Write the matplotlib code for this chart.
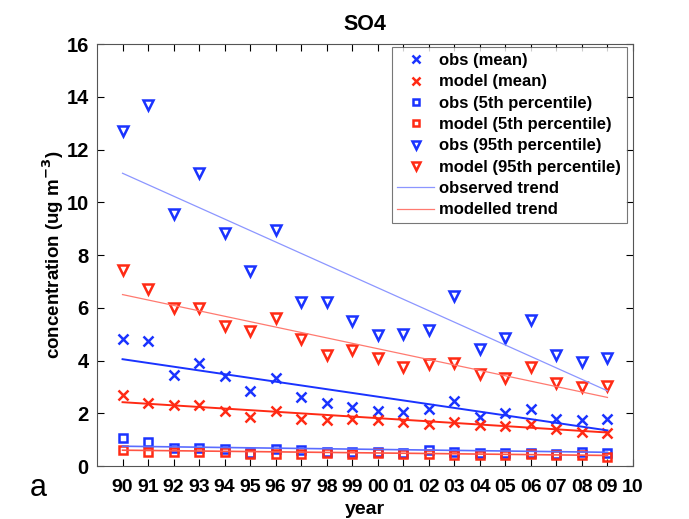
import matplotlib
matplotlib.use("Agg")
import matplotlib.pyplot as plt
import numpy as np

plt.rcParams['font.family'] = ['Liberation Sans', 'DejaVu Sans']

years = np.arange(1990, 2010)
tick_years = np.arange(1990, 2011)
tick_labels = ['%02d' % (y % 100) for y in tick_years]

obs_mean = [4.8, 4.75, 3.45, 3.9, 3.42, 2.85, 3.35, 2.6, 2.4, 2.25,
            2.1, 2.05, 2.15, 2.45, 1.85, 2.0, 2.15, 1.8, 1.75, 1.8]
mod_mean = [2.7, 2.4, 2.3, 2.3, 2.1, 1.85, 2.1, 1.8, 1.75, 1.8,
            1.75, 1.65, 1.6, 1.65, 1.55, 1.5, 1.6, 1.4, 1.3, 1.25]
obs_p5 = [1.05, 0.9, 0.7, 0.7, 0.65, 0.5, 0.65, 0.6, 0.55, 0.55,
          0.55, 0.5, 0.6, 0.55, 0.5, 0.5, 0.5, 0.45, 0.55, 0.5]
mod_p5 = [0.6, 0.55, 0.55, 0.55, 0.55, 0.45, 0.45, 0.45, 0.5, 0.45,
          0.5, 0.45, 0.45, 0.4, 0.4, 0.4, 0.45, 0.4, 0.4, 0.35]
obs_p95 = [12.7, 13.7, 9.55, 11.1, 8.85, 7.4, 8.95, 6.2, 6.2, 5.5,
           4.95, 5.0, 5.15, 6.45, 4.45, 4.85, 5.55, 4.2, 3.95, 4.1]
mod_p95 = [7.45, 6.7, 6.0, 6.0, 5.3, 5.1, 5.6, 4.8, 4.2, 4.4,
           4.1, 3.75, 3.85, 3.9, 3.5, 3.35, 3.75, 3.15, 3.0, 3.05]

# trend values at 1990 and 2009
trend_x = [1990, 2009]
obs_mean_trend = [4.05, 1.35]
mod_mean_trend = [2.42, 1.27]
obs_p5_trend = [0.75, 0.52]
mod_p5_trend = [0.6, 0.4]
obs_p95_trend = [11.1, 2.85]
mod_p95_trend = [6.5, 2.6]

blue = '#1a33ff'
red = '#ff2a14'

fig = plt.figure(figsize=(6.89, 5.19), dpi=100)
ax = fig.add_axes([0.1408, 0.1021, 0.7779, 0.8131])

ax.plot(years, obs_mean, 'x', color=blue, ms=7, mew=1.8, label='obs (mean)')
ax.plot(years, mod_mean, 'x', color=red, ms=7, mew=1.8, label='model (mean)')
ax.plot(years, obs_p5, 's', color=blue, mfc='none', ms=5.5, mew=1.8, label='obs (5th percentile)')
ax.plot(years, mod_p5, 's', color=red, mfc='none', ms=5.5, mew=1.8, label='model (5th percentile)')
ax.plot(years, obs_p95, 'v', color=blue, mfc='none', ms=7, mew=1.8, label='obs (95th percentile)')
ax.plot(years, mod_p95, 'v', color=red, mfc='none', ms=7, mew=1.8, label='model (95th percentile)')

ax.plot(trend_x, obs_p95_trend, color='#8c96ff', lw=0.9, label='observed trend')
ax.plot(trend_x, mod_p95_trend, color='#ff7a70', lw=0.9, label='modelled trend')
ax.plot(trend_x, obs_mean_trend, color=blue, lw=1.4)
ax.plot(trend_x, mod_mean_trend, color=red, lw=1.4)
ax.plot(trend_x, obs_p5_trend, color='#5a6cff', lw=1.2)
ax.plot(trend_x, mod_p5_trend, color='#ff5545', lw=1.2)

ax.set_xlim(1989, 2010)
ax.set_ylim(0, 16)
ax.set_xticks(tick_years)
ax.set_xticklabels(tick_labels)
ax.set_yticks(np.arange(0, 17, 2))
ax.tick_params(direction='in', top=True, right=True, length=5, width=0.8)
ax.tick_params(axis='x', labelsize=14, pad=9)
ax.tick_params(axis='y', labelsize=14.5, pad=6)
for lab in ax.get_xticklabels() + ax.get_yticklabels():
    lab.set_fontweight('bold')
for s in ax.spines.values():
    s.set_color('#555555')

ax.set_title('SO4', fontsize=15.5, fontweight='bold', pad=10)
ax.set_xlabel('year', fontsize=14, fontweight='bold', labelpad=4)
ax.set_ylabel('concentration (ug m$^{\\mathbf{-3}}$)', fontsize=13.5, fontweight='bold')
ax.yaxis.set_label_coords(-0.057, 0.5)

leg = ax.legend(loc='upper right', prop={'weight': 'bold', 'size': 12},
                frameon=True, fancybox=False, edgecolor='#555555',
                handlelength=2.2, handletextpad=0.3, labelspacing=0.38,
                borderpad=0.35, markerscale=0.8,
                bbox_to_anchor=(1.004, 1.012))
leg.get_frame().set_linewidth(0.8)

fig.text(0.043, 0.045, 'a', fontsize=22)

fig.savefig('out.png', dpi=100)
